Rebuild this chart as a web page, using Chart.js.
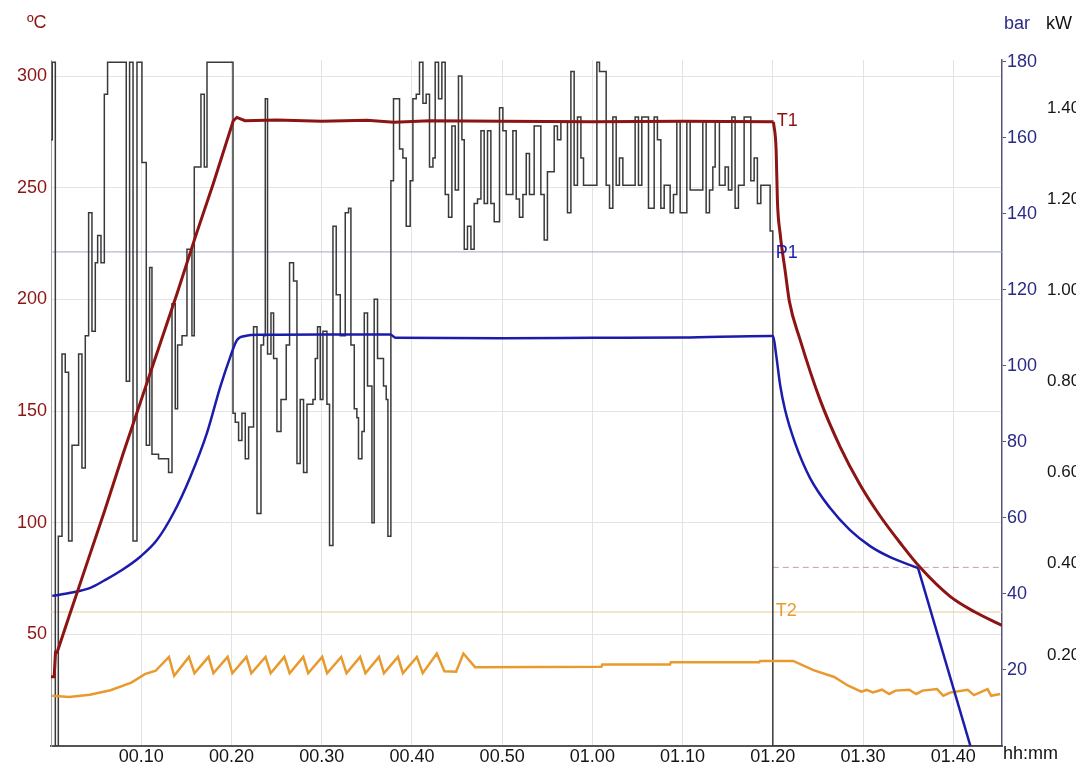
<!DOCTYPE html>
<html>
<head>
<meta charset="utf-8">
<script src="https://cdn.jsdelivr.net/npm/chart.js@4.4.0/dist/chart.umd.min.js"></script>
<style>
  html, body { margin: 0; padding: 0; background: #fff; overflow: hidden; }
  canvas { display: block; }
</style>
</head>
<body>
<canvas id="chart" width="1076" height="764"></canvas>
<script>
// time in minutes, shown as hh.mm
const timeTicks = [10, 20, 30, 40, 50, 60, 70, 80, 90, 100];
const tempTicks = [50, 100, 150, 200, 250, 300];
const barTicks = [20, 40, 60, 80, 100, 120, 140, 160, 180];
const kwTicks = [0.2, 0.4, 0.6, 0.8, 1.0, 1.2, 1.4];

// T1 (ºC) heating ramp and hold
const t1Heat = [
  [0, 31], [0.35, 31], [0.5, 42], [0.68, 42], [2, 58], [4, 82], [6, 106], [8, 131],
  [10, 155], [12, 179], [14, 203], [16, 228], [18, 252], [20.2, 280], [20.6, 281.5],
  [21.5, 280], [25, 280.3], [30, 279.8], [35, 280.2], [38, 279.3], [42, 280], [50, 279.8],
  [60, 279.6], [70, 279.8], [79.9, 279.6], [80.07, 279.5]
];
// T1 (ºC) cooling after 01.20
const t1Cool = [
  [80.07, 279.5], [80.37, 266.7], [80.51, 244], [80.81, 229.5], [81.36, 213],
  [81.84, 199], [83.02, 182], [85.24, 155], [87.46, 134], [89.67, 117],
  [91.89, 103], [94.11, 91], [96.32, 80], [99.64, 67], [102.4, 60], [105.4, 54]
];

// P1 (bar)
const p1Pressure = [
  [0.14, 39.5], [2.14, 40.3], [4.36, 41.6], [6.02, 43.7], [7.87, 46.3], [9.89, 49.8],
  [11.74, 54.2], [13.58, 61.3], [15.44, 70.8], [17.29, 82.4], [18.76, 94.5], [19.87, 102.4],
  [20.61, 106.8], [21.53, 107.9], [23.19, 108.2], [30, 108.3], [37.6, 108.3], [38.2, 107.4],
  [50, 107.3], [60, 107.4], [70, 107.5], [79.8, 107.9], [80.03, 107.9], [80.37, 102.9],
  [80.81, 95], [81.36, 88.4], [82.47, 79.7], [84.13, 70.5], [86.35, 62.6], [88.56, 56.8],
  [90.78, 52.6], [93.0, 49.7], [96.1, 46.8]
];
// P1 (bar) release once the limit is reached
const p1Release = [[96.1, 46.8], [101.9, 0]];

// T2 (ºC)
const t2Temp = [
  [0.14, 22.5], [2, 22], [4.3, 23], [6.6, 25], [8.9, 28.4], [10.4, 32.2], [11.6, 33.7],
  [13.07, 39.9], [13.65, 31.4], [15.29, 39.9], [15.9, 32.6], [17.46, 39.9], [18.0, 32.6],
  [19.57, 39.9], [20.1, 32.6], [21.66, 39.9], [22.2, 32.6], [23.77, 39.9], [24.35, 32.6],
  [25.86, 39.9], [26.45, 32.6], [27.96, 39.9], [28.5, 32.6], [30.06, 39.9], [30.6, 32.6],
  [32.16, 39.9], [32.75, 32.6], [34.26, 39.9], [34.85, 32.6], [36.35, 39.9], [36.9, 32.6],
  [38.45, 39.9], [39.0, 32.6], [40.55, 39.9], [41.2, 32.6], [42.76, 41.4], [43.6, 33.5],
  [44.9, 33.3], [45.71, 41.4], [47.0, 35.3], [61.0, 35.5], [61.1, 36.5], [68.6, 36.5],
  [68.7, 37.5], [78.5, 37.5], [78.6, 38.1], [82.25, 38.1], [84.5, 34], [86.8, 30.9],
  [88.3, 27.1], [89.8, 24.3], [90.4, 25.1], [91.1, 24.0], [92.1, 25.2], [92.9, 23.3],
  [93.6, 24.8], [95.1, 25.2], [95.9, 23.3], [96.6, 24.8], [98.2, 25.5], [98.9, 22.5],
  [99.7, 24.0], [101.6, 25.2], [102.3, 22.8], [103.8, 25.5], [104.2, 22.5], [105.2, 23.3]
];

// power (kW), each value holds until the next time
const kwPower = [
  [0, 1.33], [0.14, 1.5], [0.48, 0], [0.81, 0.46], [1.22, 0.86], [1.58, 0.82], [1.95, 0.45],
  [2.33, 0.66], [3.06, 0.86], [3.43, 0.61], [3.80, 0.90], [4.17, 1.17], [4.54, 0.91],
  [4.91, 1.06], [5.17, 1.12], [5.54, 1.06], [5.91, 1.43], [6.27, 1.5], [8.34, 0.80],
  [8.71, 1.5], [9.09, 0.45], [9.53, 1.5], [10.08, 1.28], [10.56, 0.66], [10.93, 1.05],
  [11.19, 0.64], [11.92, 0.63], [12.41, 0.63], [13.03, 0.60], [13.41, 0.97], [13.77, 0.74],
  [14.03, 0.88], [14.52, 0.90], [15.07, 1.09], [15.62, 0.90], [15.88, 1.27], [16.62, 1.43],
  [16.99, 1.27], [17.29, 1.5], [20.17, 0.73], [20.42, 0.71], [20.79, 0.67], [21.16, 0.73],
  [21.53, 0.63], [21.90, 0.70], [22.45, 0.92], [22.83, 0.51], [23.27, 0.88], [23.56, 0.90],
  [23.75, 1.42], [24.00, 0.86], [24.38, 0.95], [24.67, 0.85], [25.04, 0.69], [25.49, 0.76],
  [26.07, 0.88], [26.44, 1.06], [26.88, 1.02], [27.26, 0.62], [27.62, 0.76], [27.99, 0.60],
  [28.37, 0.75], [29.03, 0.76], [29.29, 0.85], [29.54, 0.92], [29.84, 0.76], [30.14, 0.91],
  [30.58, 0.75], [30.87, 0.44], [31.25, 1.14], [31.61, 0.99], [32.06, 0.90], [32.61, 1.17],
  [32.98, 1.18], [33.24, 0.88], [33.61, 0.74], [33.90, 0.72], [34.08, 0.63], [34.46, 0.69],
  [34.72, 0.95], [35.08, 0.79], [35.57, 0.49], [35.82, 0.98], [36.19, 0.85], [36.85, 0.79],
  [37.15, 0.76], [37.34, 0.46], [37.67, 1.24], [37.96, 1.42], [38.63, 1.31], [39.00, 1.29],
  [39.37, 1.14], [39.81, 1.24], [40.11, 1.42], [40.48, 1.43], [40.84, 1.5], [41.22, 1.41],
  [41.58, 1.43], [41.95, 1.27], [42.33, 1.29], [42.58, 1.5], [42.95, 1.42], [43.32, 1.5],
  [43.69, 1.21], [44.06, 1.16], [44.43, 1.36], [44.80, 1.22], [45.16, 1.47], [45.54, 1.33],
  [45.80, 1.09], [46.16, 1.14], [46.54, 1.09], [46.90, 1.19], [47.27, 1.20], [47.65, 1.35],
  [48.01, 1.19], [48.38, 1.35], [48.75, 1.19], [49.12, 1.15], [49.71, 1.40], [50.08, 1.35],
  [50.45, 1.21], [51.19, 1.35], [51.56, 1.20], [51.92, 1.16], [52.30, 1.21], [52.67, 1.30],
  [53.03, 1.21], [53.55, 1.36], [54.29, 1.21], [54.66, 1.11], [55.02, 1.26], [55.77, 1.36],
  [56.13, 1.33], [56.51, 1.37], [57.24, 1.17], [57.62, 1.48], [57.98, 1.23], [58.35, 1.38],
  [58.73, 1.29], [59.02, 1.23], [59.76, 1.23], [60.50, 1.5], [60.79, 1.48], [61.53, 1.23],
  [61.90, 1.18], [62.27, 1.38], [62.64, 1.23], [63.00, 1.29], [63.38, 1.23], [64.11, 1.23],
  [64.74, 1.38], [65.11, 1.23], [65.48, 1.38], [66.22, 1.18], [66.85, 1.38], [67.21, 1.33],
  [67.59, 1.18], [67.96, 1.23], [68.62, 1.17], [68.99, 1.21], [69.36, 1.37], [69.73, 1.17],
  [70.47, 1.37], [70.84, 1.22], [72.24, 1.37], [72.61, 1.17], [72.98, 1.22], [73.35, 1.27],
  [73.61, 1.37], [74.08, 1.23], [74.71, 1.27], [75.08, 1.22], [75.46, 1.38], [75.82, 1.18],
  [76.19, 1.23], [76.82, 1.38], [77.56, 1.24], [77.93, 1.29], [78.29, 1.19], [78.67, 1.23],
  [79.70, 1.13], [80.00, 0], [105.4, 0]
];

const p1Setpoint = 130;     // bar
const t2Setpoint = 60;      // ºC
const pressureLimit = 47;   // bar, from 01.20
const timeEnd = 105.4;

const RED = "#8c1414";
const BLUE = "#1c1cac";
const ORANGE = "#e99a2e";
const NAVY = "#2b2b86";
const FONT = '"Liberation Sans", Arial, sans-serif';

const pts = (arr) => arr.map(([x, y]) => ({ x, y }));
const pad2 = (n) => String(n).padStart(2, "0");
const fmtTime = (m) => pad2(Math.floor(m / 60)) + "." + pad2(m % 60);
const setTicks = (values) => (scale) => {
  scale.ticks = values.map((v) => ({ value: v }));
};

const overlayText = {
  id: "overlayText",
  afterDraw(chart) {
    const ctx = chart.ctx;
    const { x, yTemp, yBar } = chart.scales;
    ctx.save();
    ctx.font = "18px " + FONT;
    ctx.textBaseline = "middle";
    ctx.textAlign = "left";
    ctx.fillStyle = RED;
    ctx.fillText("ºC", 27, 23);
    ctx.fillStyle = NAVY;
    ctx.fillText("bar", 1004, 24);
    ctx.fillStyle = "#111";
    ctx.fillText("kW", 1046, 24);
    ctx.fillText("hh:mm", 1003, 754);

    const lx = x.getPixelForValue(80) + 3;
    ctx.fillStyle = RED;
    ctx.fillText("T1", lx + 1, yTemp.getPixelForValue(280));
    ctx.fillStyle = BLUE;
    ctx.fillText("P1", lx, yBar.getPixelForValue(p1Setpoint) + 1);
    ctx.fillStyle = ORANGE;
    ctx.fillText("T2", lx, yTemp.getPixelForValue(t2Setpoint) - 1);
    ctx.restore();
  },
};

const line = (data, axis, color, width, extra) =>
  Object.assign(
    {
      data: pts(data),
      yAxisID: axis,
      borderColor: color,
      borderWidth: width,
      pointRadius: 0,
      fill: false,
      tension: 0,
    },
    extra || {}
  );

const smooth = { cubicInterpolationMode: "monotone" };

new Chart(document.getElementById("chart"), {
  type: "line",
  data: {
    datasets: [
      line(t1Heat, "yTemp", RED, 3),
      line(t1Cool, "yTemp", RED, 3, smooth),
      line(p1Pressure, "yBar", BLUE, 2.5, smooth),
      line(p1Release, "yBar", BLUE, 2.5),
      line(t2Temp, "yTemp", ORANGE, 2.5),
      line(kwPower, "yKw", "#3a3a3a", 1.5, { stepped: true }),
      line([[80, pressureLimit], [timeEnd, pressureLimit]], "yBar", "#c69cb0", 1, { borderDash: [6, 4] }),
      line([[0, p1Setpoint], [timeEnd, p1Setpoint]], "yBar", "#a3a7c8", 1),
      line([[0, t2Setpoint], [timeEnd, t2Setpoint]], "yTemp", "#efca92", 1),
    ],
  },
  options: {
    responsive: false,
    animation: false,
    layout: { padding: { top: 60, left: 0, right: 0, bottom: 0 } },
    plugins: { legend: { display: false }, tooltip: { enabled: false } },
    scales: {
      x: {
        type: "linear",
        min: 0,
        max: timeEnd,
        afterBuildTicks: setTicks(timeTicks),
        afterFit: (s) => { s.height = 18; },
        grid: { color: "#e3e3e3", drawTicks: false },
        border: { color: "#555", width: 2 },
        ticks: {
          padding: 0,
          color: "#151515",
          font: { family: FONT, size: 18 },
          maxRotation: 0,
          autoSkip: false,
          callback: (v) => fmtTime(v),
        },
      },
      yTemp: {
        position: "left",
        min: 0,
        max: 307.2,
        afterBuildTicks: setTicks(tempTicks),
        afterFit: (s) => { s.width = 51; },
        grid: { color: "#e3e3e3", drawTicks: false },
        border: { color: "#a0a0a0", width: 1 },
        ticks: { padding: 4, color: RED, font: { family: FONT, size: 18 } },
      },
      yBar: {
        position: "right",
        min: 0,
        max: 180.5,
        afterBuildTicks: setTicks(barTicks),
        afterFit: (s) => { s.width = 41; },
        grid: { display: true, drawOnChartArea: false, drawTicks: true, tickLength: 4, tickColor: "#55557a" },
        border: { color: "#55557a", width: 1.5 },
        ticks: { padding: 1, color: NAVY, font: { family: FONT, size: 18 } },
      },
      yKw: {
        position: "right",
        min: 0,
        max: 1.505,
        afterBuildTicks: setTicks(kwTicks),
        afterFit: (s) => { s.width = 33; },
        grid: { display: false, drawTicks: false },
        border: { display: false },
        ticks: {
          padding: 4,
          color: "#151515",
          font: { family: FONT, size: 17 },
          callback: (v) => v.toFixed(2),
        },
      },
    },
  },
  plugins: [overlayText],
});
</script>
</body>
</html>
